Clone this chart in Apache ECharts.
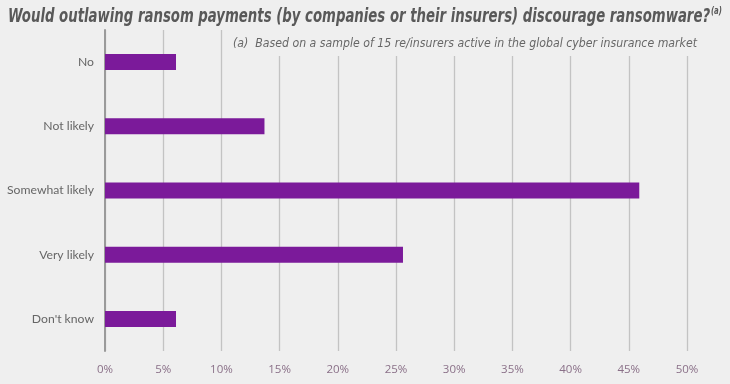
<!DOCTYPE html>
<html><head><meta charset="utf-8">
<script src="https://cdn.jsdelivr.net/npm/echarts@6/dist/echarts.min.js"></script>
<style>html,body{margin:0;padding:0;background:#efefef}#c{width:730px;height:384px}</style>
</head><body><div id="c"></div>
<script>
const categories = ['No', 'Not likely', 'Somewhat likely', 'Very likely', "Don't know"];
const values = [6.1, 13.7, 45.9, 25.6, 6.1];
const xTicks = { min: 0, max: 50, interval: 5 };
const titleText = 'Would outlawing ransom payments (by companies or their insurers) discourage ransomware?';
const titleSup = '(a)';
const noteText = '(a)  Based on a sample of 15 re/insurers active in the global cyber insurance market';

const condFont = '"DejaVu Sans Condensed", "DejaVu Sans", sans-serif';
const titleFont = 'italic bold 19px ' + condFont;
const supFont = 'italic bold 10px ' + condFont;
const noteFont = 'italic 13px ' + condFont;

const ctx = document.createElement('canvas').getContext('2d');
function w(font, s) { ctx.font = font; return ctx.measureText(s).width; }
const titleW = w(titleFont, titleText) + w(supFont, titleSup) + 1;
const titleScale = 714 / titleW;
const noteW = w(noteFont, noteText);
const noteScale = 464 / noteW;

const chart = echarts.init(document.getElementById('c'), null, {renderer: 'canvas'});
chart.setOption({
  backgroundColor: '#efefef',
  animation: false,
  graphic: [
    { type: 'text', x: 8, y: 6, scaleX: titleScale, z: 100,
      style: {
        text: '{t|' + titleText + '}{s|' + titleSup + '}',
        rich: {
          t: { font: titleFont, fill: '#595959', lineHeight: 23 },
          s: { font: supFont, fill: '#595959', verticalAlign: 'top', lineHeight: 23, padding: [0, 0, 8, 1] }
        }
      }
    },
    { type: 'rect', z: 99, shape: { x: 224, y: 28, width: 506, height: 28 }, style: { fill: '#efefef' } },
    { type: 'text', x: 233, y: 37, scaleX: noteScale, z: 100,
      style: { text: noteText, font: noteFont, fill: '#676767' } }
  ],
  grid: { left: 105, right: 43, top: 30, bottom: 33, containLabel: false },
  xAxis: {
    type: 'value', min: xTicks.min, max: xTicks.max, interval: xTicks.interval,
    axisLine: { show: false }, axisTick: { show: false },
    axisLabel: { formatter: '{value}%', color: '#8a7088', fontSize: 11.5, margin: 13, fontFamily: '"Open Sans", sans-serif' },
    splitLine: { show: true, lineStyle: { color: '#c3c3c3', width: 1.3 } }
  },
  yAxis: {
    type: 'category', data: categories, inverse: true,
    axisLine: { show: true, lineStyle: { color: '#9a9a9a', width: 2 } },
    axisTick: { show: false },
    axisLabel: { color: '#666', fontSize: 12.2, margin: 11, fontFamily: 'Lato, sans-serif' }
  },
  series: [{
    type: 'bar', data: values, barWidth: 16,
    itemStyle: { color: '#7b1a9a' }
  }]
});
</script></body></html>
